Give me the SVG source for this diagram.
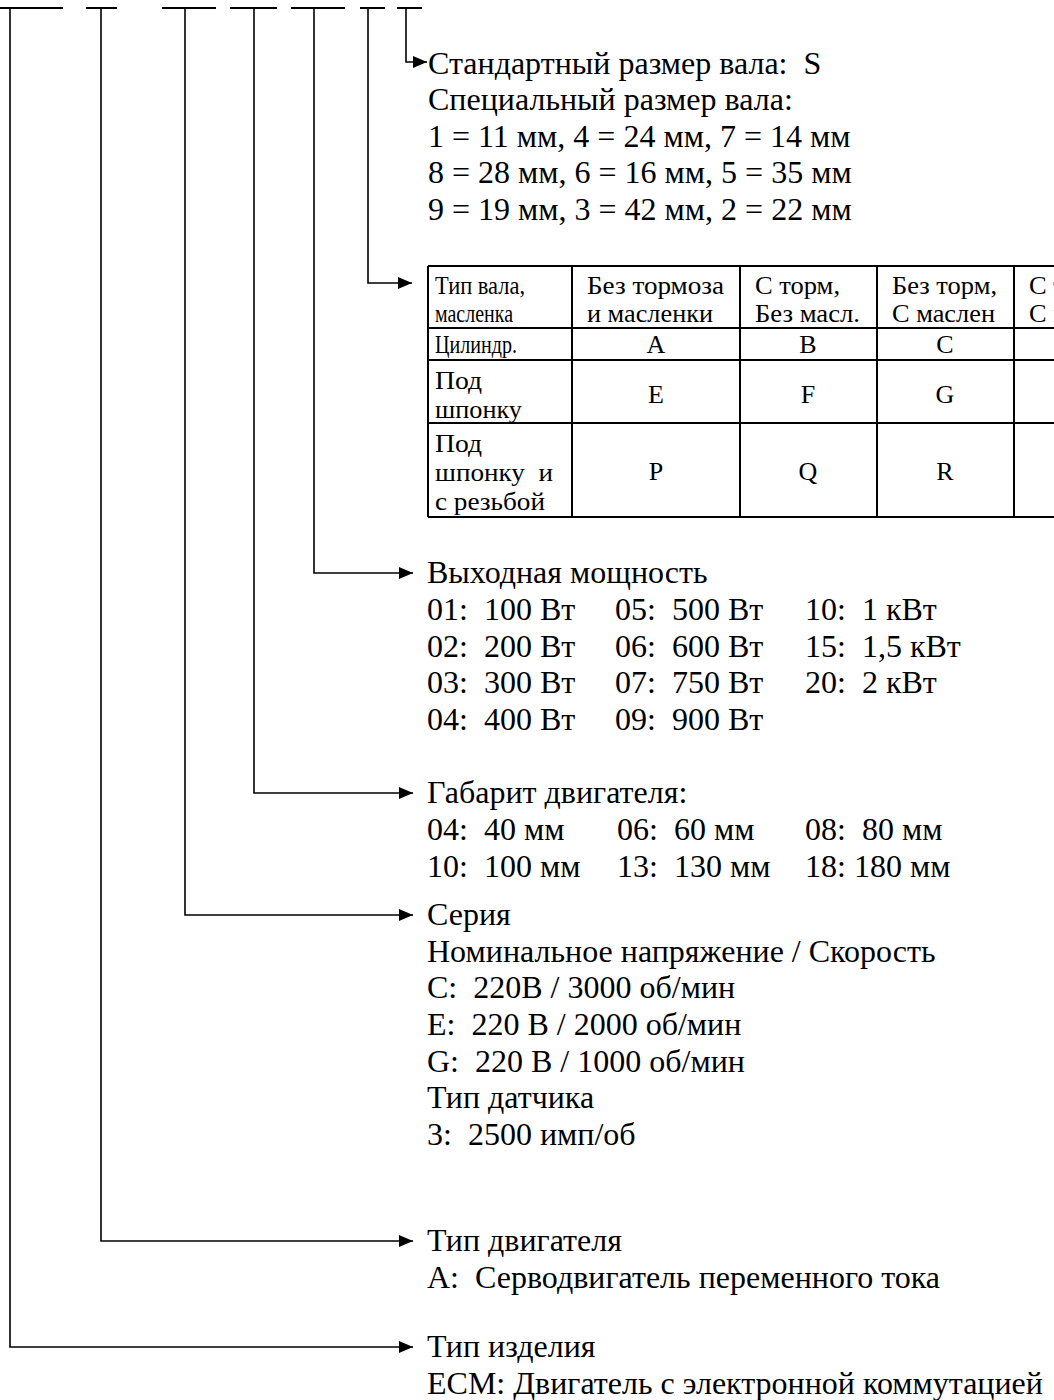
<svg xmlns="http://www.w3.org/2000/svg" width="1054" height="1400" viewBox="0 0 1054 1400">
<style>
text{font-family:"Liberation Serif","Times New Roman",serif;fill:#000;white-space:pre}
.m{font-size:32px}
.t{font-size:26px}
.c{text-anchor:middle}
.bar{stroke:#000;stroke-width:2;fill:none}
.con{stroke:#000;stroke-width:1.6;fill:none;marker-end:url(#ah)}
.grid{stroke:#000;stroke-width:2;fill:none}
</style>
<defs>
<marker id="ah" viewBox="0 0 14 12" refX="14" refY="6" markerWidth="14" markerHeight="12" markerUnits="userSpaceOnUse" orient="auto"><path d="M0,0 L14,6 L0,12 z" fill="#000"/></marker>
</defs>
<rect width="1054" height="1400" fill="#fff"/>
<g id="code-bars">
<path class="bar" d="M0,8 H63 M86,8 H117 M162,8 H216 M230,8 H277 M291,8 H345 M360,8 H385 M397,8 H422"/>
</g>
<g id="connectors">
<path class="con" d="M406,8 V62 H427"/>
<path class="con" d="M368,8 V283 H412"/>
<path class="con" d="M314,8 V573 H413"/>
<path class="con" d="M254,8 V793 H413"/>
<path class="con" d="M185,8 V915 H413"/>
<path class="con" d="M101,8 V1241 H413"/>
<path class="con" d="M10,8 V1347 H413"/>
</g>
<g id="shaft-size">
<text class="m" x="428" y="74">Стандартный размер вала:  S</text>
<text class="m" x="428" y="110">Специальный размер вала:</text>
<text class="m" x="428" y="147">1 = 11 мм, 4 = 24 мм, 7 = 14 мм</text>
<text class="m" x="428" y="183">8 = 28 мм, 6 = 16 мм, 5 = 35 мм</text>
<text class="m" x="428" y="220">9 = 19 мм, 3 = 42 мм, 2 = 22 мм</text>
</g>
<g id="shaft-type-table">
<path class="grid" d="M428,266 H1060 M428,328 H1060 M428,360 H1060 M428,423 H1060 M428,517 H1060 M428,266 V517 M572,266 V517 M740,266 V517 M877,266 V517 M1014,266 V517"/>
<text class="t" x="435" y="294" textLength="90" lengthAdjust="spacingAndGlyphs">Тип вала,</text>
<text class="t" x="435" y="322" textLength="78" lengthAdjust="spacingAndGlyphs">масленка</text>
<text class="t" x="587" y="294" textLength="137" lengthAdjust="spacingAndGlyphs">Без тормоза</text>
<text class="t" x="587" y="322" textLength="126" lengthAdjust="spacingAndGlyphs">и масленки</text>
<text class="t" x="755" y="294" textLength="85" lengthAdjust="spacingAndGlyphs">С торм,</text>
<text class="t" x="755" y="322" textLength="105" lengthAdjust="spacingAndGlyphs">Без масл.</text>
<text class="t" x="892" y="294" textLength="105" lengthAdjust="spacingAndGlyphs">Без торм,</text>
<text class="t" x="892" y="322" textLength="103" lengthAdjust="spacingAndGlyphs">С маслен</text>
<text class="t" x="1029" y="294" textLength="85" lengthAdjust="spacingAndGlyphs">С торм,</text>
<text class="t" x="1029" y="322" textLength="103" lengthAdjust="spacingAndGlyphs">С маслен</text>
<text class="t" x="435" y="353" textLength="82" lengthAdjust="spacingAndGlyphs">Цилиндр.</text>
<text class="t c" x="656" y="353">A</text>
<text class="t c" x="808" y="353">B</text>
<text class="t c" x="945" y="353">C</text>
<text class="t" x="435" y="389" textLength="47" lengthAdjust="spacingAndGlyphs">Под</text>
<text class="t" x="435" y="418" textLength="87" lengthAdjust="spacingAndGlyphs">шпонку</text>
<text class="t c" x="656" y="403">E</text>
<text class="t c" x="808" y="403">F</text>
<text class="t c" x="945" y="403">G</text>
<text class="t" x="435" y="452" textLength="47" lengthAdjust="spacingAndGlyphs">Под</text>
<text class="t" x="435" y="481" textLength="118" lengthAdjust="spacingAndGlyphs">шпонку  и</text>
<text class="t" x="435" y="510" textLength="110" lengthAdjust="spacingAndGlyphs">с резьбой</text>
<text class="t c" x="656" y="480">P</text>
<text class="t c" x="808" y="480">Q</text>
<text class="t c" x="945" y="480">R</text>
</g>
<g id="output-power">
<text class="m" x="427" y="583">Выходная мощность</text>
<text class="m" x="427" y="620">01:  100 Вт</text>
<text class="m" x="615" y="620">05:  500 Вт</text>
<text class="m" x="805" y="620">10:  1 кВт</text>
<text class="m" x="427" y="657">02:  200 Вт</text>
<text class="m" x="615" y="657">06:  600 Вт</text>
<text class="m" x="805" y="657">15:  1,5 кВт</text>
<text class="m" x="427" y="693">03:  300 Вт</text>
<text class="m" x="615" y="693">07:  750 Вт</text>
<text class="m" x="805" y="693">20:  2 кВт</text>
<text class="m" x="427" y="730">04:  400 Вт</text>
<text class="m" x="615" y="730">09:  900 Вт</text>
</g>
<g id="motor-frame">
<text class="m" x="427" y="803">Габарит двигателя:</text>
<text class="m" x="427" y="840">04:  40 мм</text>
<text class="m" x="617" y="840">06:  60 мм</text>
<text class="m" x="805" y="840">08:  80 мм</text>
<text class="m" x="427" y="877">10:  100 мм</text>
<text class="m" x="617" y="877">13:  130 мм</text>
<text class="m" x="805" y="877">18: 180 мм</text>
</g>
<g id="series">
<text class="m" x="427" y="925">Серия</text>
<text class="m" x="427" y="962">Номинальное напряжение / Скорость</text>
<text class="m" x="427" y="998">C:  220В / 3000 об/мин</text>
<text class="m" x="427" y="1035">E:  220 В / 2000 об/мин</text>
<text class="m" x="427" y="1072">G:  220 В / 1000 об/мин</text>
<text class="m" x="427" y="1108">Тип датчика</text>
<text class="m" x="427" y="1145">3:  2500 имп/об</text>
</g>
<g id="motor-type">
<text class="m" x="427" y="1251">Тип двигателя</text>
<text class="m" x="427" y="1288">A:  Серводвигатель переменного тока</text>
</g>
<g id="product-type">
<text class="m" x="427" y="1357">Тип изделия</text>
<text class="m" x="427" y="1394">ECM: Двигатель с электронной коммутацией</text>
</g>
</svg>
